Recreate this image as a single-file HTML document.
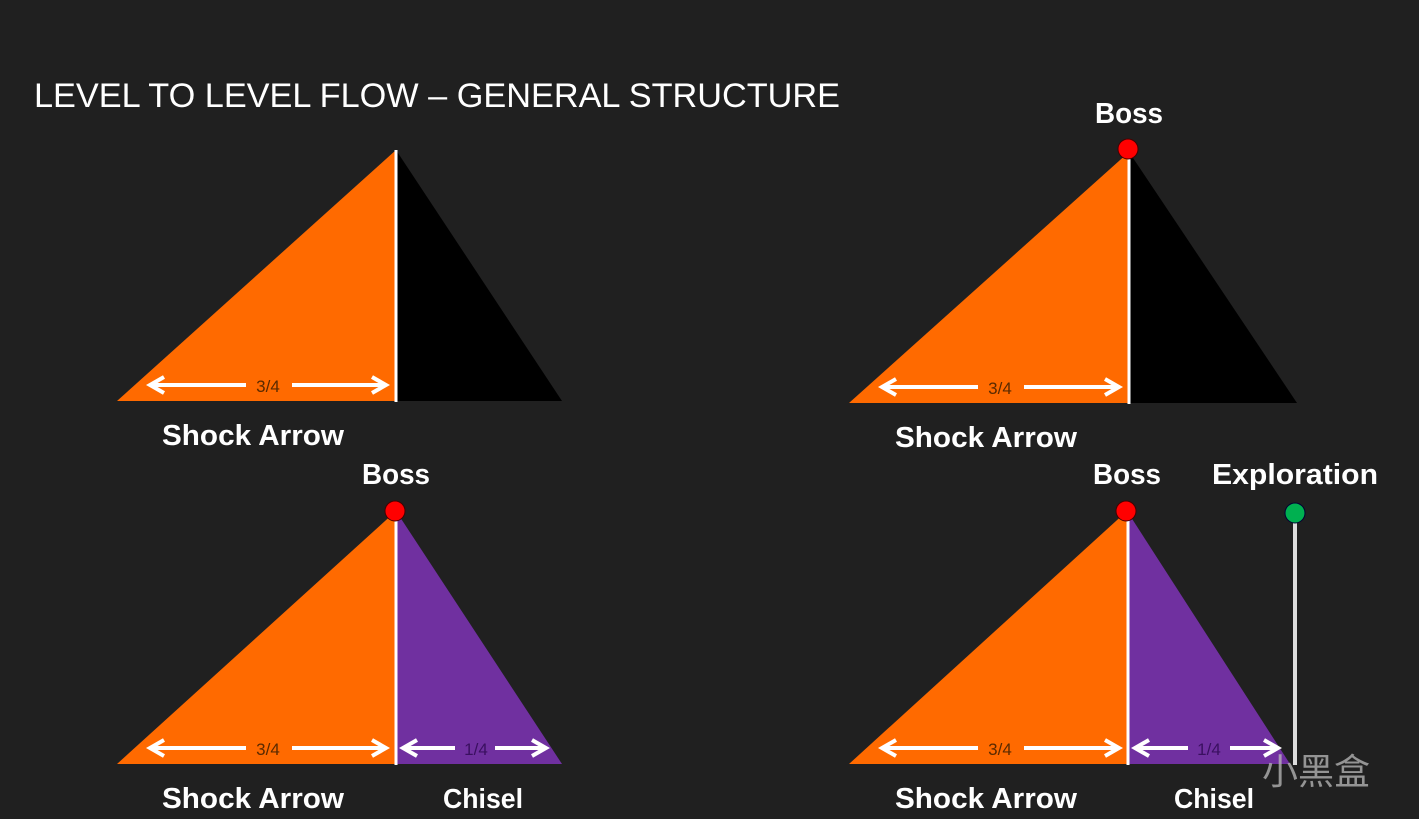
<!DOCTYPE html>
<html><head><meta charset="utf-8"><style>
html,body{margin:0;padding:0;background:#202020;}
svg{display:block;}
text{font-family:"Liberation Sans",sans-serif;fill:#fff;}
</style></head><body>
<svg width="1419" height="819" viewBox="0 0 1419 819" xmlns="http://www.w3.org/2000/svg">
<defs>
<marker id="ah" viewBox="0 0 10 10" refX="8" refY="5" markerWidth="5" markerHeight="5" orient="auto-start-reverse">
<path d="M1,1 L8,5 L1,9" fill="none" stroke="#fff" stroke-width="2"/>
</marker>
</defs>
<rect width="1419" height="819" fill="#202020"/>
<text x="34" y="107" font-size="34" textLength="806" lengthAdjust="spacingAndGlyphs">LEVEL TO LEVEL FLOW – GENERAL STRUCTURE</text>

<!-- Panel 1 -->
<polygon points="117,401 396,150 396,401" fill="#ff6a00"/>
<polygon points="396,150 562,401 396,401" fill="#000"/>
<line x1="396" y1="150" x2="396" y2="402" stroke="#fff" stroke-width="3"/>
<line x1="150" y1="385" x2="246" y2="385" stroke="#fff" stroke-width="4" marker-start="url(#ah)"/>
<line x1="292" y1="385" x2="386" y2="385" stroke="#fff" stroke-width="4" marker-end="url(#ah)"/>
<text x="268" y="392" font-size="17" style="fill:#5a2a00" text-anchor="middle">3/4</text>
<text x="253" y="445" font-size="29" font-weight="bold" text-anchor="middle" textLength="182" lengthAdjust="spacingAndGlyphs">Shock Arrow</text>

<!-- Panel 2 -->
<polygon points="849,403 1129,152 1129,403" fill="#ff6a00"/>
<polygon points="1129,152 1297,403 1129,403" fill="#000"/>
<line x1="1129" y1="152" x2="1129" y2="404" stroke="#fff" stroke-width="3"/>
<line x1="882" y1="387" x2="978" y2="387" stroke="#fff" stroke-width="4" marker-start="url(#ah)"/>
<line x1="1024" y1="387" x2="1119" y2="387" stroke="#fff" stroke-width="4" marker-end="url(#ah)"/>
<text x="1000" y="394" font-size="17" style="fill:#5a2a00" text-anchor="middle">3/4</text>
<circle cx="1128" cy="149" r="10" fill="#ff0000" stroke="#400" stroke-width="1"/>
<text x="1129" y="123" font-size="29" font-weight="bold" text-anchor="middle" textLength="68" lengthAdjust="spacingAndGlyphs">Boss</text>
<text x="986" y="447" font-size="29" font-weight="bold" text-anchor="middle" textLength="182" lengthAdjust="spacingAndGlyphs">Shock Arrow</text>

<!-- Panel 3 -->
<polygon points="117,764 396,511 396,764" fill="#ff6a00"/>
<polygon points="396,511 562,764 396,764" fill="#7030a0"/>
<line x1="396" y1="511" x2="396" y2="765" stroke="#fff" stroke-width="3"/>
<line x1="150" y1="748" x2="246" y2="748" stroke="#fff" stroke-width="4" marker-start="url(#ah)"/>
<line x1="292" y1="748" x2="386" y2="748" stroke="#fff" stroke-width="4" marker-end="url(#ah)"/>
<text x="268" y="755" font-size="17" style="fill:#5a2a00" text-anchor="middle">3/4</text>
<line x1="403" y1="748" x2="455" y2="748" stroke="#fff" stroke-width="4" marker-start="url(#ah)"/>
<line x1="495" y1="748" x2="546" y2="748" stroke="#fff" stroke-width="4" marker-end="url(#ah)"/>
<text x="476" y="755" font-size="17" style="fill:#3a1060" text-anchor="middle">1/4</text>
<circle cx="395" cy="511" r="10" fill="#ff0000" stroke="#400" stroke-width="1"/>
<text x="396" y="484" font-size="29" font-weight="bold" text-anchor="middle" textLength="68" lengthAdjust="spacingAndGlyphs">Boss</text>
<text x="253" y="808" font-size="29" font-weight="bold" text-anchor="middle" textLength="182" lengthAdjust="spacingAndGlyphs">Shock Arrow</text>
<text x="483" y="808" font-size="28" font-weight="bold" text-anchor="middle" textLength="80" lengthAdjust="spacingAndGlyphs">Chisel</text>

<!-- Panel 4 -->
<polygon points="849,764 1127,511 1127,764" fill="#ff6a00"/>
<polygon points="1127,511 1290,764 1127,764" fill="#7030a0"/>
<line x1="1128" y1="511" x2="1128" y2="765" stroke="#fff" stroke-width="3"/>
<line x1="882" y1="748" x2="978" y2="748" stroke="#fff" stroke-width="4" marker-start="url(#ah)"/>
<line x1="1024" y1="748" x2="1119" y2="748" stroke="#fff" stroke-width="4" marker-end="url(#ah)"/>
<text x="1000" y="755" font-size="17" style="fill:#5a2a00" text-anchor="middle">3/4</text>
<line x1="1135" y1="748" x2="1188" y2="748" stroke="#fff" stroke-width="4" marker-start="url(#ah)"/>
<line x1="1230" y1="748" x2="1278" y2="748" stroke="#fff" stroke-width="4" marker-end="url(#ah)"/>
<text x="1209" y="755" font-size="17" style="fill:#3a1060" text-anchor="middle">1/4</text>
<circle cx="1126" cy="511" r="10" fill="#ff0000" stroke="#400" stroke-width="1"/>
<text x="1127" y="484" font-size="29" font-weight="bold" text-anchor="middle" textLength="68" lengthAdjust="spacingAndGlyphs">Boss</text>
<line x1="1295" y1="515" x2="1295" y2="765" stroke="#ddd" stroke-width="4"/>
<circle cx="1295" cy="513" r="10" fill="#00b050" stroke="#003" stroke-width="1"/>
<text x="1295" y="484" font-size="29" font-weight="bold" text-anchor="middle" textLength="166" lengthAdjust="spacingAndGlyphs">Exploration</text>
<text x="986" y="808" font-size="29" font-weight="bold" text-anchor="middle" textLength="182" lengthAdjust="spacingAndGlyphs">Shock Arrow</text>
<text x="1214" y="808" font-size="28" font-weight="bold" text-anchor="middle" textLength="80" lengthAdjust="spacingAndGlyphs">Chisel</text>
<text x="1262" y="784" font-size="36" style="fill:#bbb;opacity:0.75;font-family:'Liberation Sans','Noto Sans CJK SC',sans-serif">小黑盒</text>
</svg>
</body></html>
